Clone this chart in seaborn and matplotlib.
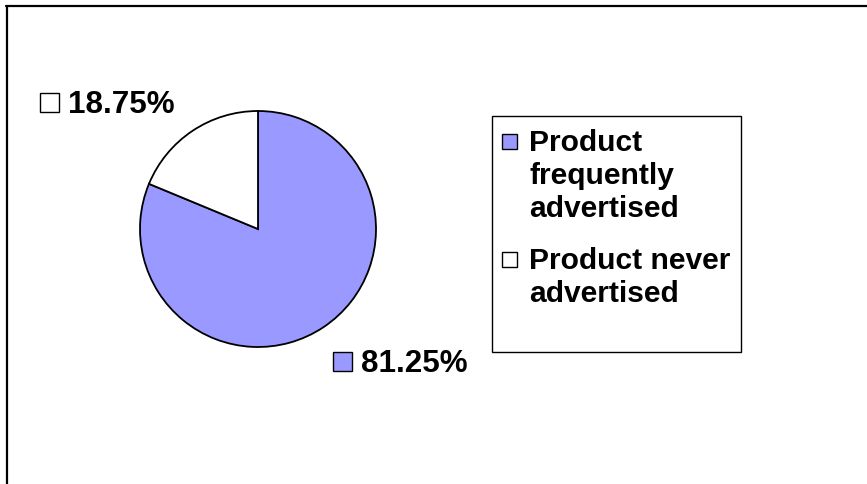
import matplotlib
matplotlib.use("Agg")
import matplotlib.pyplot as plt
from matplotlib.patches import Rectangle
from matplotlib.lines import Line2D
import seaborn as sns

# Share of products by advertising frequency
categories = ["Product frequently advertised", "Product never advertised"]
legend_labels = ["Product\nfrequently\nadvertised", "Product never\nadvertised"]
shares = [81.25, 18.75]
colors = ["#9999FF", "#FFFFFF"]

sns.set_theme(style="white")
plt.rcParams["font.family"] = ["Liberation Sans", "DejaVu Sans"]

W, H = 867, 485
fig = plt.figure(figsize=(W / 100, H / 100), dpi=100)
fig.patch.set_facecolor("white")


def fx(px):
    return px / W


def fy(py):
    return 1 - py / H


# outer chart-area frame (top and left edges visible)
fig.add_artist(Line2D([fx(6), fx(867)], [fy(7), fy(7)], color="black", lw=1.6,
                      transform=fig.transFigure))
fig.add_artist(Line2D([fx(6.5), fx(6.5)], [fy(7), fy(485)], color="black", lw=1.6,
                      transform=fig.transFigure))

# pie
cx, cy, r = 258, 230, 118
ax = fig.add_axes([fx(cx - r), fy(cy + r), (2 * r) / W, (2 * r) / H])
wedges, _ = ax.pie(shares, colors=colors, startangle=90, counterclock=False,
                   wedgeprops=dict(edgecolor="black", linewidth=1.3))
ax.set_xlim(-1.0, 1.0)
ax.set_ylim(-1.0, 1.0)
ax.set_aspect("equal")
ax.axis("off")

fs = 22.6
fs_leg = 21.6

# data labels with colour keys
label_pos = [(333, 362), (40, 103)]
for val, col, (lx, ly) in zip(shares, colors, label_pos):
    fig.add_artist(Rectangle((fx(lx), fy(ly + 9.5)), 18.5 / W, 19 / H, facecolor=col,
                             edgecolor="black", lw=1.0, transform=fig.transFigure))
    fig.text(fx(lx + 28), fy(ly + 2), f"{val:.2f}%", fontsize=fs, fontweight="bold",
             ha="left", va="center", color="black")

# legend
fig.add_artist(Rectangle((fx(492), fy(353)), (741 - 492) / W, (353 - 117) / H,
                         facecolor="white", edgecolor="black", lw=1.0,
                         transform=fig.transFigure))
entry_y = [142, 260]
for lab, col, ey in zip(legend_labels, colors, entry_y):
    fig.add_artist(Rectangle((fx(502), fy(ey + 7.5)), 15 / W, 15 / H, facecolor=col,
                             edgecolor="black", lw=1.0, transform=fig.transFigure))
    fig.text(fx(529), fy(ey - 12.5), lab, fontsize=fs_leg, fontweight="bold",
             ha="left", va="top", linespacing=1.22, color="black")

fig.savefig("out.png", dpi=100, facecolor="white")
